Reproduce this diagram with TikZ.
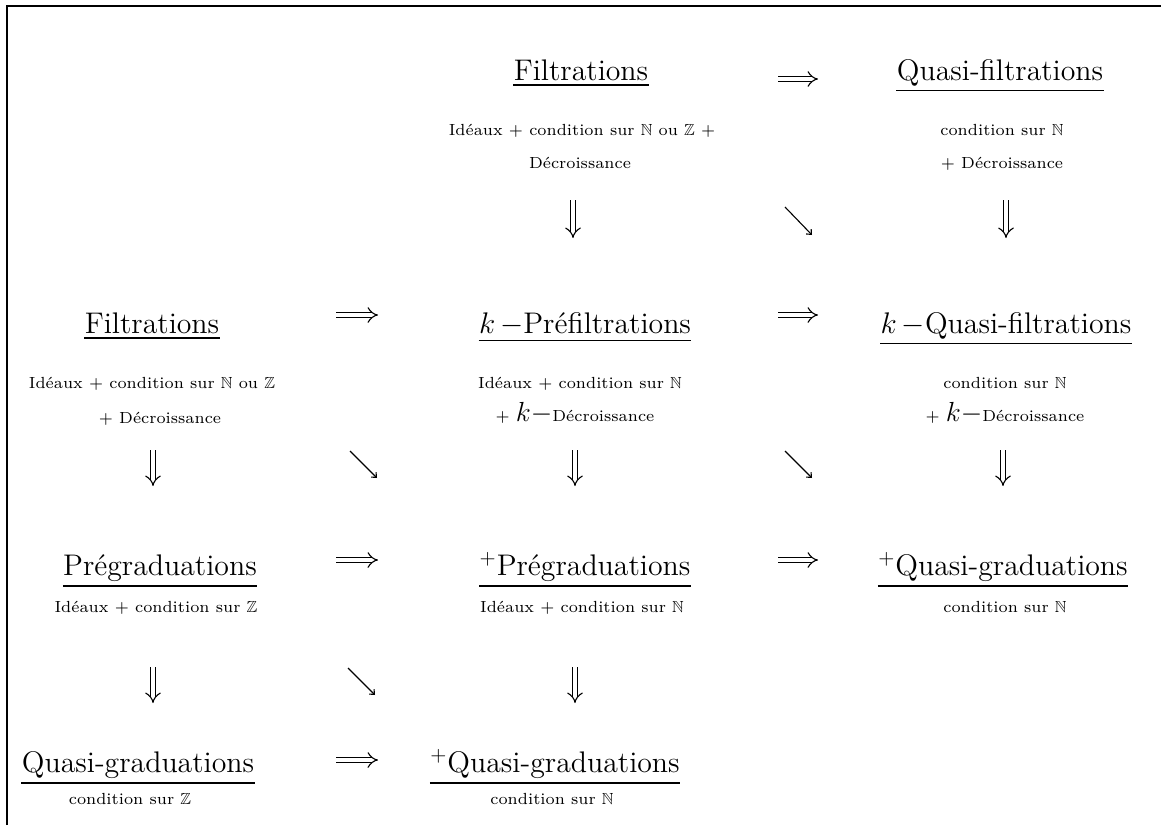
\documentclass[tikz,border=0pt]{standalone}
\usepackage{amssymb}
\usetikzlibrary{arrows.meta}
\begin{document}
\begin{tikzpicture}[x=1pt,y=-1pt,
  every node/.style={inner sep=0pt},
  title/.style={anchor=base,scale=2.07,font=\Large},
  sub/.style={anchor=base,scale=2.3,font=\scriptsize},
  imp/.style={double,line width=1.1pt,double distance=4.4pt,-{Implies}},
  dia/.style={line width=1.1pt,-{Straight Barb[length=4pt,width=7pt]}},
  ul/.style={line width=1.5pt},
  frame/.style={line width=1.6pt}]
\useasboundingbox (0,0) rectangle (1161,825);
\draw[frame] (7,825) -- (7,6) -- (1161,6);

% Row 1
\node[title] (f1)  at (581,80) {Filtrations};
\node[title] (qf1) at (1000,80) {Quasi-filtrations};
\node[sub] (f1a)  at (582,135) {Idéaux + condition sur $\mathbb{N}$ ou $\mathbb{Z}$ +};
\node[sub] (f1b)  at (580,168) {Décroissance};
\node[sub] (qf1a) at (1002,135) {condition sur $\mathbb{N}$};
\node[sub] (qf1b) at (1002,168) {+ Décroissance};

% Row 2
\node[title] (f2) at (152,333) {Filtrations};
\node[title] (kp) at (585,333) {$k\,{-}$Préfiltrations};
\node[title] (kq) at (1006,333) {$k\,{-}$Quasi-filtrations};
\node[sub] (f2a) at (152,388) {Idéaux + condition sur $\mathbb{N}$ ou $\mathbb{Z}$};
\node[sub] (f2b) at (160,423) {+ Décroissance};
\node[sub] (kpa) at (580,388) {Idéaux + condition sur $\mathbb{N}$};
\node[sub] (kpb) at (575,421) {+ {\fontsize{12.5}{14}\selectfont$k-$}Décroissance};
\node[sub] (kqa) at (1005,388) {condition sur $\mathbb{N}$};
\node[sub] (kqb) at (1005,421) {+ {\fontsize{12.5}{14}\selectfont$k-$}Décroissance};

% Row 3
\node[title] (pg)  at (160,575) {Prégraduations};
\node[title] (ppg) at (585,575) {$^+$Prégraduations};
\node[title] (pqg) at (1003,575) {$^+$Quasi-graduations};
\node[sub] (pga)  at (156,612) {Idéaux + condition sur $\mathbb{Z}$};
\node[sub] (ppga) at (582,612) {Idéaux + condition sur $\mathbb{N}$};
\node[sub] (pqga) at (1005,612) {condition sur $\mathbb{N}$};

% Row 4
\node[title] (qg)   at (138,772) {Quasi-graduations};
\node[title] (pqg2) at (555,772) {$^+$Quasi-graduations};
\node[sub] (qga)   at (130,804) {condition sur $\mathbb{Z}$};
\node[sub] (pqg2a) at (552,804) {condition sur $\mathbb{N}$};

% underlines
\foreach \n in {f1,qf1,f2,kp,kq,pg,ppg,pqg,qg,pqg2}
  \draw[ul] ([yshift=-4.5pt]\n.south west) -- ([yshift=-4.5pt]\n.south east);

% implication arrows (horizontal)
\coordinate (h1s) at (778,79);  \coordinate (h1e) at (818,79);
\coordinate (h2s) at (336,315); \coordinate (h2e) at (378,315);
\coordinate (h3s) at (778,315); \coordinate (h3e) at (818,315);
\coordinate (h4s) at (336,560); \coordinate (h4e) at (378,560);
\coordinate (h5s) at (778,560); \coordinate (h5e) at (818,560);
\coordinate (h6s) at (336,760); \coordinate (h6e) at (378,760);
\foreach \a in {1,...,6} \draw[imp] (h\a s) -- (h\a e);

% implication arrows (vertical)
\coordinate (v1s) at (573,200);  \coordinate (v1e) at (573,238);
\coordinate (v2s) at (1006,200); \coordinate (v2e) at (1006,238);
\coordinate (v3s) at (153,450);  \coordinate (v3e) at (153,486);
\coordinate (v4s) at (575,450);  \coordinate (v4e) at (575,486);
\coordinate (v5s) at (1003,450); \coordinate (v5e) at (1003,486);
\coordinate (v6s) at (153,667);  \coordinate (v6e) at (153,703);
\coordinate (v7s) at (575,667);  \coordinate (v7e) at (575,703);
\foreach \a in {1,...,7} \draw[imp] (v\a s) -- (v\a e);

% diagonal arrows
\coordinate (d1s) at (785,207); \coordinate (d1e) at (812,235);
\coordinate (d2s) at (350,451); \coordinate (d2e) at (377,478);
\coordinate (d3s) at (785,451); \coordinate (d3e) at (812,478);
\coordinate (d4s) at (348,668); \coordinate (d4e) at (375,695);
\foreach \a in {1,...,4} \draw[dia] (d\a s) -- (d\a e);
\end{tikzpicture}
\end{document}
